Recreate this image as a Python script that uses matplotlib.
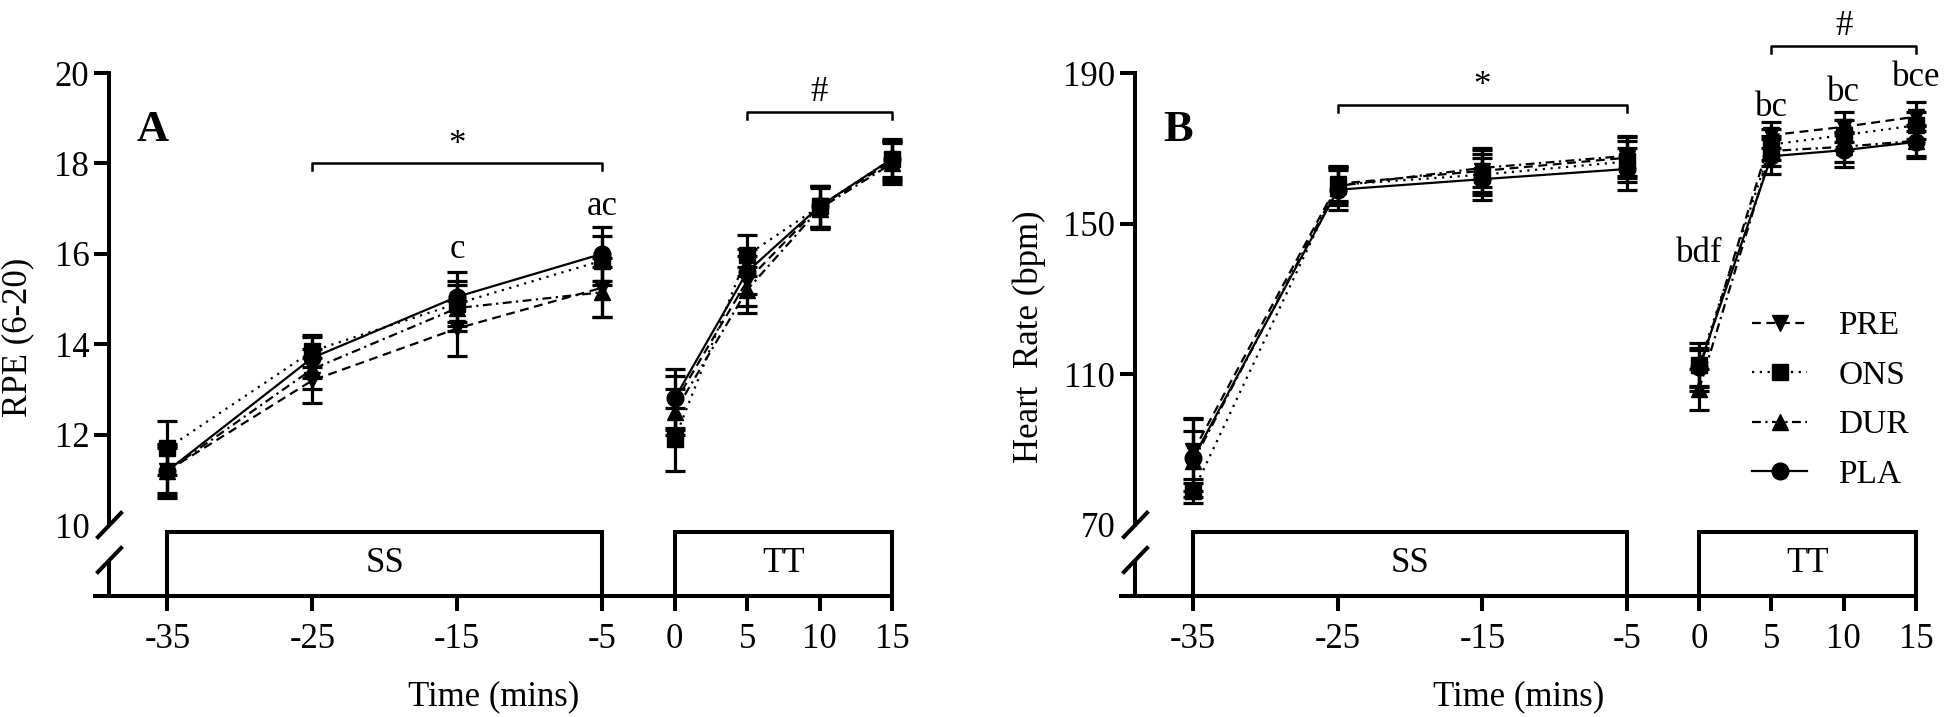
import matplotlib
matplotlib.use("Agg")
import matplotlib.pyplot as plt
from matplotlib.lines import Line2D
from matplotlib.patches import Rectangle

plt.rcParams['font.family'] = ['Liberation Serif', 'DejaVu Serif']
plt.rcParams['mathtext.fontset'] = 'stix'

# ---------------- data ----------------
time = [-35, -25, -15, -5, 0, 5, 10, 15]
series = ["PRE", "ONS", "DUR", "PLA"]

rpe_pre = [11.2, 13.2, 14.35, 15.25, 12.7, 15.4, 17.05, 18.05]
rpe_ons = [11.7, 13.85, 14.9, 15.85, 11.9, 15.97, 17.05, 18.1]
rpe_dur = [11.2, 13.45, 14.8, 15.15, 12.5, 15.2, 17.0, 18.0]
rpe_pla = [11.2, 13.7, 15.05, 16.0, 12.8, 15.6, 17.05, 18.1]
rpe_pre_sd = [0.55, 0.5, 0.6, 0.65, 0.6, 0.55, 0.45, 0.45]
rpe_ons_sd = [0.6, 0.35, 0.5, 0.55, 0.7, 0.45, 0.45, 0.4]
rpe_dur_sd = [0.5, 0.45, 0.5, 0.55, 0.5, 0.5, 0.45, 0.45]
rpe_pla_sd = [0.6, 0.45, 0.55, 0.6, 0.65, 0.5, 0.45, 0.45]

hr_pre = [89.5, 160.6, 164.0, 167.5, 111.0, 173.5, 175.7, 178.4]
hr_ons = [78.9, 160.3, 163.0, 166.5, 112.5, 171.0, 173.5, 176.1]
hr_dur = [86.9, 160.0, 164.8, 168.0, 106.0, 169.3, 170.4, 172.0]
hr_pla = [87.8, 159.0, 161.8, 164.5, 112.0, 167.9, 169.5, 171.7]
hr_pre_sd = [8.5, 4.6, 5.5, 5.5, 5.5, 3.5, 4.0, 3.9]
hr_ons_sd = [3.2, 4.5, 5.5, 5.5, 5.8, 4.0, 4.0, 3.5]
hr_dur_sd = [8.0, 5.0, 5.2, 5.4, 5.5, 4.0, 4.0, 4.0]
hr_pla_sd = [10.5, 5.3, 5.5, 5.5, 5.0, 4.6, 4.5, 4.4]

xticks = [-35, -25, -15, -5, 0, 5, 10, 15]
rpe_yticks = [12, 14, 16, 18, 20]
hr_yticks = [110, 150, 190]

# annotations (x, y, text)
rpe_notes = [(-15, 16.1, "c"), (-5, 17.05, "ac")]
hr_notes = [(0, 142, "bdf"), (5, 180.9, "bc"), (10, 184.9, "bc"), (15, 188.7, "bce")]

# ---------------- style ----------------
styles = {
    "PRE": dict(marker="v", dashes=(4, 2.5), ms=12),
    "ONS": dict(marker="s", dashes=(1, 2.5), ms=11),
    "DUR": dict(marker="^", dashes=(4, 2, 1, 2), ms=12),
    "PLA": dict(marker="o", dashes=(), ms=12),
}
FS = 25
SPINE_LW = 2.9

W, H = 1946, 717
fig = plt.figure(figsize=(W / 100, H / 100), dpi=100)

def axes_rect(x0, x1, ytop, ybot):
    return [x0 / W, 1 - ybot / H, (x1 - x0) / W, (ybot - ytop) / H]

axA = fig.add_axes(axes_rect(95, 892, 73, 596))
axB = fig.add_axes(axes_rect(1121, 1916, 73, 596))


def draw_panel(ax, vals, sds, ylim, yticks, brk_val, ylabel, ylabel_x, letter,
               star_y, hash_y, notes):
    ax.set_xlim(-40, 15)
    ax.set_ylim(*ylim)
    for s in ("top", "right"):
        ax.spines[s].set_visible(False)
    ax.spines["left"].set_position(("data", -39))
    ax.spines["left"].set_bounds(brk_val, ylim[1])
    for s in ("left", "bottom"):
        ax.spines[s].set_linewidth(SPINE_LW)
    ax.set_xticks(xticks)
    ax.set_xticklabels([str(t) for t in xticks])
    ax.set_yticks([brk_val] + yticks)
    ax.set_yticklabels([str(brk_val)] + [str(t) for t in yticks])
    ax.yaxis.get_major_ticks()[0].tick1line.set_visible(False)
    ax.tick_params(axis="both", labelsize=FS, width=SPINE_LW, length=10.5,
                   direction="out")
    ax.tick_params(axis="y", pad=4)
    ax.tick_params(axis="x", pad=9)

    # lower spine segment and break marks (axes fraction)
    sx = 1 / 55.0
    fr10 = (brk_val - ylim[0]) / (ylim[1] - ylim[0])
    low_c = 0.0688
    dx, dy = 0.0163, 0.0258
    kw = dict(transform=ax.transAxes, color="black", lw=SPINE_LW,
              clip_on=False, solid_capstyle="butt")
    ax.plot([sx, sx], [0, low_c], **kw)
    ax.plot([sx - dx, sx + dx], [fr10 - dy, fr10 + dy], **kw)
    ax.plot([sx - dx, sx + dx], [low_c - dy, low_c + dy], **kw)

    # protocol boxes
    btop = 0.1224
    tr = ax.get_xaxis_transform()
    for (a, b, lab) in [(-35, -5, "SS"), (0, 15, "TT")]:
        ax.add_patch(Rectangle((a, 0), b - a, btop, transform=tr, fill=False,
                               lw=SPINE_LW, ec="black", clip_on=False,
                               joinstyle="miter"))
        ax.text((a + b) / 2, btop / 2, lab, transform=tr, ha="center",
                va="center", fontsize=FS)

    # series
    for name in series:
        st = styles[name]
        y = vals[name]
        e = sds[name]
        for sl in (slice(0, 4), slice(4, 8)):
            ln, = ax.plot(time[sl], y[sl], color="black", lw=1.6,
                          clip_on=False)
            if st["dashes"]:
                ln.set_dashes(st["dashes"])
        ax.errorbar(time, y, yerr=e, ls="none", marker=st["marker"],
                    ms=st["ms"], color="black", mfc="black", mec="black",
                    elinewidth=2.3, capsize=7, capthick=2.3, clip_on=False,
                    zorder=3)

    # significance brackets
    yr = ylim[1] - ylim[0]
    tick = 0.013 * yr
    ax.plot([-25, -25, -5, -5], [star_y - tick, star_y, star_y, star_y - tick],
            color="black", lw=1.8, clip_on=False)
    ax.text(-15, star_y + 0.035 * yr, "*", ha="center", va="center",
            fontsize=FS)
    ax.plot([5, 5, 15, 15], [hash_y - tick, hash_y, hash_y, hash_y - tick],
            color="black", lw=1.8, clip_on=False)
    ax.text(10, hash_y + 0.037 * yr, "#", ha="center", va="center",
            fontsize=FS, clip_on=False)

    for (x, yv, t) in notes:
        ax.text(x, yv, t, ha="center", va="center", fontsize=FS)

    ax.text(0.0527, 0.891, letter, transform=ax.transAxes, ha="left",
            va="center", fontsize=32, fontweight="bold")
    ax.text(ylabel_x, 0.495, ylabel, transform=ax.transAxes, rotation=90,
            ha="center", va="center", fontsize=FS)
    ax.text(0.5, -0.193, "Time (mins)", transform=ax.transAxes, ha="center",
            va="center", fontsize=FS)


rpe_vals = {"PRE": rpe_pre, "ONS": rpe_ons, "DUR": rpe_dur, "PLA": rpe_pla}
rpe_sds = {"PRE": rpe_pre_sd, "ONS": rpe_ons_sd, "DUR": rpe_dur_sd, "PLA": rpe_pla_sd}
hr_vals = {"PRE": hr_pre, "ONS": hr_ons, "DUR": hr_dur, "PLA": hr_pla}
hr_sds = {"PRE": hr_pre_sd, "ONS": hr_ons_sd, "DUR": hr_dur_sd, "PLA": hr_pla_sd}

draw_panel(axA, rpe_vals, rpe_sds, (8.43, 20), rpe_yticks, 10, "RPE (6-20)",
           -0.0966, "A", 18.0, 19.14, rpe_notes)
draw_panel(axB, hr_vals, hr_sds, (51.1, 190), hr_yticks, 70, "Heart  Rate (bpm)",
           -0.1157, "B", 181.5, 197.2, hr_notes)

# legend
handles = []
for name in series:
    st = styles[name]
    h = Line2D([], [], color="black", lw=1.6, marker=st["marker"], ms=st["ms"])
    if st["dashes"]:
        h.set_dashes(st["dashes"])
    handles.append(h)
axB.legend(handles, series, loc="upper left", bbox_to_anchor=(0.794, 0.545),
           frameon=False, fontsize=24, handlelength=1.65, handletextpad=0.93,
           labelspacing=0.57, borderpad=0, borderaxespad=0, numpoints=1)

fig.savefig("out.png", dpi=100)
